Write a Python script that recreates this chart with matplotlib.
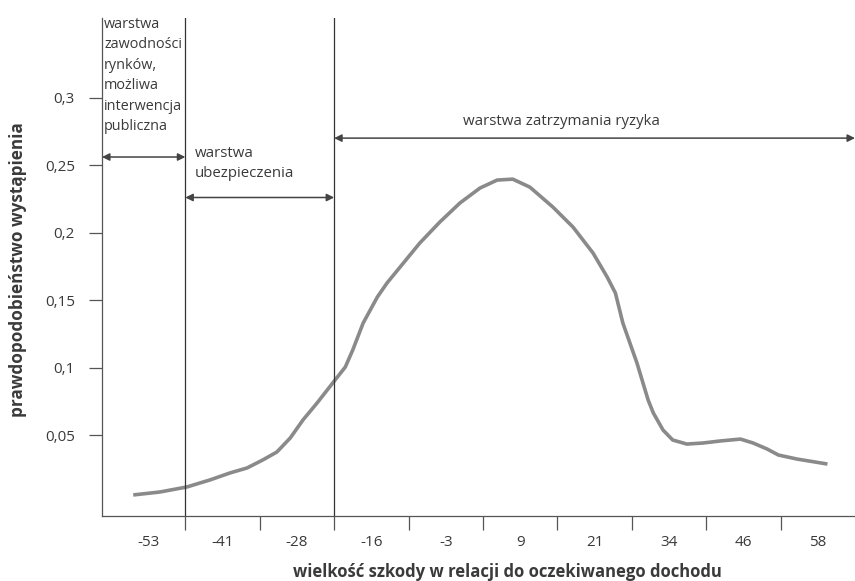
import matplotlib.pyplot as plt

plt.rcParams['font.family'] = ['Open Sans', 'DejaVu Sans']

categories = ['-53', '-41', '-28', '-16', '-3', '9', '21', '34', '46', '58']
y_ticks = [0.05, 0.1, 0.15, 0.2, 0.25, 0.3]

# curve, x in category units (0 = first category)
curve_x = [-0.20, 0.16, 0.52, 0.83, 1.10, 1.33, 1.54, 1.73, 1.91, 2.08, 2.27,
           2.48, 2.65, 2.75, 2.89, 3.08, 3.21, 3.43, 3.65, 3.92, 4.19, 4.46,
           4.69, 4.90, 5.13, 5.44, 5.71, 5.98, 6.17, 6.28, 6.38, 6.57, 6.72,
           6.79, 6.92, 7.05, 7.24, 7.46, 7.69, 7.96, 8.13, 8.32, 8.47, 8.72, 9.13]
curve_y = [0.0056, 0.0078, 0.0115, 0.0167, 0.0219, 0.0256, 0.0315, 0.0374, 0.0478,
           0.0611, 0.0737, 0.0885, 0.1004, 0.1130, 0.1330, 0.1522, 0.1626, 0.1774,
           0.1922, 0.2078, 0.2219, 0.2330, 0.2389, 0.2396, 0.2337, 0.2189, 0.2041,
           0.1848, 0.1670, 0.1552, 0.1330, 0.1033, 0.0759, 0.0663, 0.0537, 0.0463,
           0.0433, 0.0441, 0.0456, 0.0470, 0.0441, 0.0396, 0.0352, 0.0322, 0.0285]

layer_edges = [0.5, 2.5]
txt = '#3a3a3a'
x0, x1 = -0.62, 9.5

fig = plt.figure(figsize=(8.55, 5.81), dpi=100)
ax = fig.add_axes([102 / 855, 1 - 516 / 581, 1 - 102 / 855, (516 - 18) / 581])

ax.plot(curve_x, curve_y, color='#8a8a8a', lw=2.6, solid_joinstyle='round',
        solid_capstyle='butt')

for x in layer_edges:
    ax.axvline(x, color='#333333', lw=0.9)

ax.set_xlim(x0, x1)
ax.set_ylim(-0.01, 0.359)

ax.set_xticks(range(len(categories)))
ax.set_xticklabels(categories)
ax.set_xticks([i + 0.5 for i in range(len(categories) - 1)], minor=True)
ax.tick_params(axis='x', which='major', length=0, pad=14, labelsize=11, labelcolor=txt)
ax.tick_params(axis='x', which='minor', length=10, width=0.9, color='#555555')

ax.set_yticks(y_ticks)
ax.set_yticklabels([str(v).replace('.', ',') for v in y_ticks])
ax.tick_params(axis='y', length=9.5, width=0.9, color='#555555', pad=10,
               labelsize=11, labelcolor=txt)

for s in ['top', 'right']:
    ax.spines[s].set_visible(False)
for s in ['left', 'bottom']:
    ax.spines[s].set_color('#555555')
    ax.spines[s].set_linewidth(0.9)

arrow = dict(arrowstyle='<|-|>', color='#444444', lw=1.1, mutation_scale=11,
             shrinkA=0, shrinkB=0)
ax.annotate('', xy=(x0, 0.256), xytext=(0.5, 0.256), arrowprops=arrow)
ax.annotate('', xy=(0.5, 0.226), xytext=(2.5, 0.226), arrowprops=arrow)
ax.annotate('', xy=(2.5, 0.270), xytext=(x1, 0.270), arrowprops=arrow)

ax.text(x0 + 0.03, 0.360, 'warstwa\nzawodności\nrynków,\nmożliwa\ninterwencja\npubliczna',
        fontsize=10.4, color=txt, va='top', ha='left', linespacing=1.5)
ax.text(0.63, 0.264, 'warstwa\nubezpieczenia', fontsize=10.8, color=txt,
        va='top', ha='left', linespacing=1.45)
ax.text(5.55, 0.277, 'warstwa zatrzymania ryzyka', fontsize=10.8, color=txt,
        va='bottom', ha='center')

fig.text(507 / 855, 1 - 572 / 581, 'wielkość szkody w relacji do oczekiwanego dochodu',
         fontsize=12, fontweight='bold', color=txt, ha='center', va='center')
fig.text(18 / 855, 1 - 270 / 581, 'prawdopodobieństwo wystąpienia', rotation=90,
         fontsize=12.3, fontweight='bold', color=txt, ha='center', va='center')

fig.savefig('out.png', dpi=100)
